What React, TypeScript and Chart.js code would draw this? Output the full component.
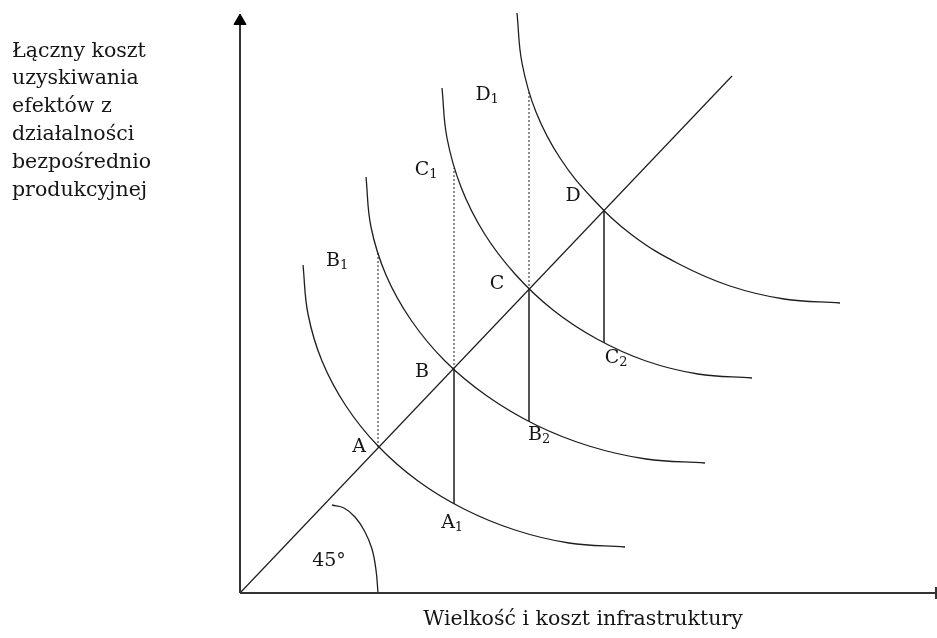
import React, { useEffect, useRef } from 'react';
import { Chart, registerables } from 'chart.js';

Chart.register(...registerables);

// ---- data (units: chart coordinates, origin at the axes' corner) ----
const xAxisTitle = 'Wielkość i koszt infrastruktury';
const yAxisTitleLines = ['Łączny koszt', 'uzyskiwania', 'efektów z', 'działalności', 'bezpośrednio', 'produkcyjnej'];

const xAxisEnd = 696;
const yAxisEnd = 572;

const diagonalLine = [[0, 0], [492, 517]];

const curve1 = [[63, 328], [68, 279], [82, 232], [106, 187], [138, 147], [178, 112], [224, 84], [275, 63], [329, 50], [385, 46]];
const curve2 = [[126, 416], [131, 366], [146, 318], [171, 273], [205, 232], [247, 197], [296, 168], [349, 147], [406, 134], [465, 130]];
const curve3 = [[202, 505], [207, 455], [221, 406], [244, 360], [275, 319], [313, 283], [357, 254], [406, 232], [458, 219], [512, 215]];
const curve4 = [[277, 580], [282, 530], [296, 481], [320, 435], [353, 394], [392, 358], [439, 329], [490, 307], [544, 294], [600, 290]];

const angleArc = [[92, 88], [104, 85], [115, 76], [124.5, 62], [132, 44], [136, 23], [138, 0]];

// intersections on the 45° line
const intersectionX = [138, 214, 289, 364];
const intersectionY = [146, 224, 303, 382];
// solid drop lines: from intersection down to the lower curve
const solidDropBottom = [null, 89, 172, 250];
// dotted rise lines: from intersection up to the higher curve
const dottedRiseTop = [341, 425, 502, null];

const pointLabels = [
  { t: 'A', s: '', x: 119, y: 146 },
  { t: 'B', s: '', x: 182, y: 221 },
  { t: 'C', s: '', x: 257, y: 309 },
  { t: 'D', s: '', x: 333, y: 397 },
  { t: 'A', s: '1', x: 208, y: 70 },
  { t: 'B', s: '1', x: 93, y: 332 },
  { t: 'C', s: '1', x: 182, y: 423 },
  { t: 'D', s: '1', x: 243, y: 498 },
  { t: 'B', s: '2', x: 295, y: 158 },
  { t: 'C', s: '2', x: 372, y: 235 },
  { t: '45°', s: '', x: 89, y: 32 },
];

const yTitleX = -228;
const yTitleBaselines = [536, 509, 481, 453, 425, 397];
const xTitlePos = { x: 343, y: -32 };

const toPts = (arr: number[][]) => arr.map(([x, y]) => ({ x, y }));

const INK = '#1e1e1e';
const SERIF = '"DejaVu Serif", "Liberation Serif", serif';

const textPlugin = {
  id: 'diagramText',
  afterDatasetsDraw(chart: any) {
    const { ctx, scales } = chart;
    const px = (v: number) => scales.x.getPixelForValue(v);
    const py = (v: number) => scales.y.getPixelForValue(v);
    ctx.save();
    ctx.fillStyle = '#151515';
    // y title
    ctx.font = `20.5px ${SERIF}`;
    ctx.textAlign = 'left';
    ctx.textBaseline = 'alphabetic';
    yAxisTitleLines.forEach((line, i) => ctx.fillText(line, px(yTitleX), py(yTitleBaselines[i])));
    // x title
    ctx.textAlign = 'center';
    ctx.fillText(xAxisTitle, px(xTitlePos.x), py(xTitlePos.y));
    // point labels
    pointLabels.forEach((l) => {
      ctx.font = `19px ${SERIF}`;
      ctx.textAlign = 'center';
      ctx.textBaseline = 'middle';
      const cx = px(l.x);
      const cy = py(l.y);
      ctx.fillText(l.t, cx, cy);
      if (l.s) {
        const w = ctx.measureText(l.t).width;
        ctx.font = `13px ${SERIF}`;
        ctx.textAlign = 'left';
        ctx.fillText(l.s, cx + w / 2, cy + 5);
      }
    });
    ctx.restore();
  },
};

export default function App() {
  const ref = useRef<HTMLCanvasElement | null>(null);
  useEffect(() => {
    if (!ref.current) return;
    const curveDs = (pts: number[][]) => ({
      data: toPts(pts),
      borderColor: INK,
      borderWidth: 1.3,
      pointRadius: 0,
      tension: 0.4,
      showLine: true,
    });
    const segDs = (pts: number[][], dashed: boolean, width = 1.5) => ({
      data: toPts(pts),
      borderColor: INK,
      borderWidth: dashed ? 1 : width,
      borderDash: dashed ? [2, 2] : [],
      pointRadius: 0,
      tension: 0,
      showLine: true,
    });
    const datasets: any[] = [
      // y axis with arrow head
      {
        data: [{ x: 0, y: 0 }, { x: 0, y: yAxisEnd }],
        borderColor: '#333',
        borderWidth: 2,
        showLine: true,
        pointRadius: [0, 7],
        pointStyle: 'triangle',
        pointBackgroundColor: '#000',
        pointBorderColor: '#000',
        pointBorderWidth: 1,
      },
      // x axis with end tick
      {
        data: [{ x: 0, y: 0 }, { x: xAxisEnd, y: 0 }],
        borderColor: '#333',
        borderWidth: 2,
        showLine: true,
        pointRadius: [0, 6],
        pointStyle: 'line',
        rotation: 90,
        pointBorderColor: '#333',
        pointBorderWidth: 2,
      },
      segDs(diagonalLine, false, 1.2),
      curveDs(curve1),
      curveDs(curve2),
      curveDs(curve3),
      curveDs(curve4),
      curveDs(angleArc),
    ];
    intersectionX.forEach((x, i) => {
      const y = intersectionY[i];
      const b = solidDropBottom[i];
      const t = dottedRiseTop[i];
      if (b !== null) datasets.push(segDs([[x, y], [x, b]], false));
      if (t !== null) datasets.push(segDs([[x, y], [x, t]], true));
    });

    const chart = new Chart(ref.current, {
      type: 'scatter',
      data: { datasets },
      options: {
        animation: false,
        responsive: false,
        devicePixelRatio: 1,
        layout: { padding: 0, autoPadding: false },
        plugins: { legend: { display: false }, tooltip: { enabled: false } },
        events: [],
        scales: {
          x: { type: 'linear', display: false, min: -240, max: 697 },
          y: { type: 'linear', display: false, min: -45, max: 593 },
        },
      },
      plugins: [textPlugin],
    });
    return () => chart.destroy();
  }, []);

  return (
    <div style={{ position: 'fixed', left: 0, top: 0, width: 937, height: 638, background: '#fff' }}>
      <canvas ref={ref} width={937} height={638} style={{ display: 'block' }} />
    </div>
  );
}
